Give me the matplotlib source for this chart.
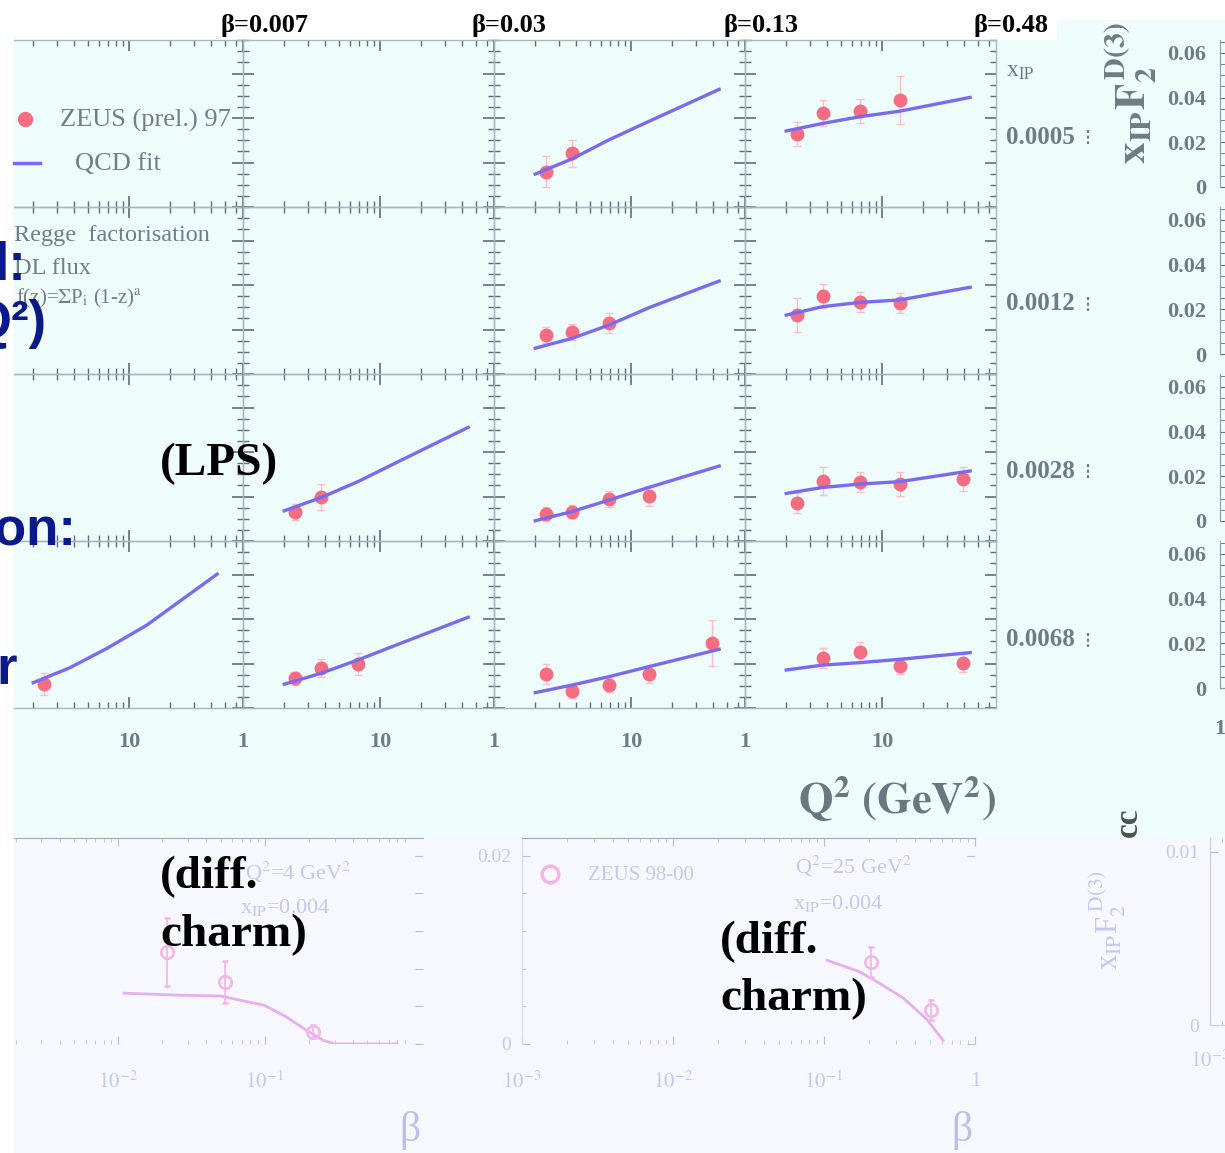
import numpy as np
import matplotlib
matplotlib.use('Agg')
import matplotlib.pyplot as plt
from matplotlib.patches import Rectangle
from matplotlib.ticker import FixedLocator, MultipleLocator, NullFormatter

plt.rcParams['font.family'] = ['Liberation Serif', 'DejaVu Sans']
plt.rcParams['mathtext.fontset'] = 'stix'

nan = np.nan
W, H = 1225, 1153

# ---- main ZEUS LPS grid: rows = x_IP, columns = beta ----
beta_titles = ['β=0.007', 'β=0.03', 'β=0.13', 'β=0.48']
xip_labels = ['0.0005', '0.0012', '0.0028', '0.0068']
q2_meas = [2.4, 3.7, 6.9, 13.5, 39.0]
q2_fit = [2.0, 3.7, 6.9, 13.5, 44.0]

# x_IP = 0.0005
meas_r1 = [None, None, [0.0159, 0.0241, nan, nan, nan], [0.0327, 0.0421, 0.0433, 0.0481, nan]]
err_r1 = [None, None, [0.0070, 0.0060, nan, nan, nan], [0.0054, 0.0058, 0.0054, 0.0108, nan]]
fit_r1 = [None, None, [0.0148, 0.0216, 0.0302, 0.0385, 0.0529], [0.0342, 0.0376, 0.0406, 0.0431, 0.0493]]
# x_IP = 0.0012
meas_r2 = [None, None, [0.0175, 0.0190, 0.0231, nan, nan], [0.0265, 0.0351, 0.0325, 0.0320, nan]]
err_r2 = [None, None, [0.0036, 0.0036, 0.0045, nan, nan], [0.0076, 0.0054, 0.0045, 0.0045, nan]]
fit_r2 = [None, None, [0.0116, 0.0160, 0.0220, 0.0298, 0.0418], [0.0265, 0.0303, 0.0322, 0.0333, 0.0390]]
# x_IP = 0.0028
meas_r3 = [None, [0.0132, 0.0199, nan, nan, nan], [0.0121, 0.0132, 0.0189, 0.0202, nan],
           [0.0172, 0.0270, 0.0267, 0.0255, 0.0277]]
err_r3 = [None, [0.0036, 0.0058, nan, nan, nan], [0.0030, 0.0030, 0.0036, 0.0045, nan],
          [0.0045, 0.0063, 0.0045, 0.0054, 0.0054]]
fit_r3 = [None, [0.0136, 0.0195, 0.0267, 0.0356, 0.0511], [0.0091, 0.0132, 0.0184, 0.0241, 0.0337],
          [0.0214, 0.0241, 0.0256, 0.0267, 0.0315]]
# x_IP = 0.0068
meas_r4 = [[0.0107, nan, nan, nan, nan], [0.0133, 0.0181, 0.0198, nan, nan],
           [0.0153, 0.0076, 0.0103, 0.0153, 0.0294], [nan, 0.0226, 0.0250, 0.0190, 0.0201]]
err_r4 = [[0.0050, nan, nan, nan, nan], [0.0030, 0.0040, 0.0050, nan, nan],
          [0.0045, 0.0030, 0.0030, 0.0040, 0.0103], [nan, 0.0045, 0.0045, 0.0036, 0.0040]]
fit_r4 = [[0.0114, 0.0181, 0.0268, 0.0373, 0.0602], [0.0107, 0.0156, 0.0216, 0.0286, 0.0408],
          [0.0069, 0.0103, 0.0141, 0.0186, 0.0264], [0.0171, 0.0193, 0.0204, 0.0219, 0.0249]]

meas_rows = [meas_r1, meas_r2, meas_r3, meas_r4]
err_rows = [err_r1, err_r2, err_r3, err_r4]
fit_rows = [fit_r1, fit_r2, fit_r3, fit_r4]

right_ticks = [0, 0.02, 0.04, 0.06]
right_ticklabels = ['0', '0.02', '0.04', '0.06']

# ---- diffractive charm panels (bottom, faded) ----
beta_c4 = [0.0214, 0.0537, 0.214]
f2c_4 = [0.0098, 0.0066, 0.0013]
err_c4 = [0.0036, 0.0022, 0.0007]
fit_beta_4 = [0.011, 0.025, 0.05, 0.1, 0.14, 0.2, 0.25, 0.3, 0.8]
fit_c4 = [0.0054, 0.0052, 0.0051, 0.0041, 0.0029, 0.0013, 0.0004, 0.0, 0.0]

beta_c25 = [0.205, 0.511]
f2c_25 = [0.0087, 0.0036]
err_c25 = [0.0016, 0.0011]
fit_beta_25 = [0.105, 0.171, 0.231, 0.334, 0.481, 0.614]
fit_c25 = [0.0089, 0.0077, 0.0065, 0.0049, 0.0026, 0.0004]

GRAY = '#6E7C84'
PT_RED = '#F66C80'
FIT_BLUE = '#7A6AEE'
FAINT = '#C3C9EE'
NAVY = '#0B1A8A'


def px_rect(x0, y0, x1, y1):
    return [x0 / W, 1 - y1 / H, (x1 - x0) / W, (y1 - y0) / H]


fig = plt.figure(figsize=(W / 100, H / 100), dpi=100)
fig.patch.set_facecolor('white')

bg = fig.add_axes([0, 0, 1, 1])
bg.set_xlim(0, W); bg.set_ylim(H, 0); bg.axis('off'); bg.set_zorder(0)
bg.add_patch(Rectangle((14, 40), W - 14, 798, color='#EFFCFC', lw=0))
bg.add_patch(Rectangle((1057, 20), W - 1057, 20, color='#EFFCFC', lw=0))
bg.add_patch(Rectangle((14, 838), W - 14, H - 838, color='#F6F8FE', lw=0))

# main 4x4 grid
for r in range(4):
    for c in range(4):
        x0 = -8 + 251 * c
        y0 = 40 + 167 * r
        ax = fig.add_axes(px_rect(x0, y0, x0 + 251, y0 + 167))
        ax.set_zorder(1)
        ax.set_facecolor('none')
        ax.set_xscale('log')
        ax.set_xlim(1, 10 ** (251 / 137))
        ax.set_ylim(0, 0.0751)
        ax.xaxis.set_major_locator(FixedLocator([1, 10]))
        ax.xaxis.set_minor_locator(FixedLocator([2, 3, 4, 5, 6, 7, 8, 9, 20, 30, 40, 50, 60]))
        ax.xaxis.set_minor_formatter(NullFormatter())
        ax.yaxis.set_major_locator(MultipleLocator(0.02))
        ax.yaxis.set_minor_locator(MultipleLocator(0.005))
        ax.tick_params(which='both', direction='in', top=True, right=True, colors='#5F6E75',
                       labelleft=False)
        ax.tick_params(which='major', length=8, width=1.2)
        ax.tick_params(which='minor', length=4, width=1)
        for s in ax.spines.values():
            s.set_color('#A9B6BC'); s.set_linewidth(1)
        if r == 3:
            ax.set_xticks([1, 10], ['1', '10'])
            ax.tick_params(axis='x', which='major', pad=17, labelsize=16, labelcolor=GRAY)
            for lab in ax.get_xticklabels():
                lab.set_fontweight('bold')
        else:
            ax.tick_params(axis='x', labelbottom=False)

        meas = meas_rows[r][c]
        if meas is not None:
            ax.errorbar(q2_meas, meas, yerr=err_rows[r][c], fmt='o', ms=9, color=PT_RED,
                        ecolor='#F7BFCB', elinewidth=1, capsize=3, zorder=3)
        fit = fit_rows[r][c]
        if fit is not None:
            ax.plot(q2_fit, fit, color=FIT_BLUE, lw=2.4, zorder=4)

# right-hand neighbouring panels (cut off by the crop)
for r in range(4):
    top = 40 + 167 * r
    zero = 187 + 167 * r
    ax = fig.add_axes(px_rect(1220, top, 1330, zero))
    ax.set_zorder(1)
    ax.set_facecolor('none')
    ax.set_ylim(0, 0.0658)
    ax.set_yticks(right_ticks, right_ticklabels)
    ax.yaxis.set_minor_locator(MultipleLocator(0.005))
    ax.tick_params(axis='y', which='both', direction='in', colors='#5F6E75', pad=10,
                   labelsize=16, labelcolor=GRAY)
    ax.tick_params(axis='y', which='major', length=7)
    ax.tick_params(axis='y', which='minor', length=4)
    for lab in ax.get_yticklabels():
        lab.set_fontweight('bold')
    for side in ['top', 'right', 'bottom']:
        ax.spines[side].set_visible(False)
    ax.spines['left'].set_color('#8E9BA2')
    if r == 3:
        ax.spines['bottom'].set_visible(True)
        ax.spines['bottom'].set_color('#8E9BA2')
        ax.set_xscale('log')
        ax.set_xlim(1, 100)
        ax.set_xticks([1], ['1'])
        ax.xaxis.set_minor_locator(FixedLocator([]))
        ax.tick_params(axis='x', length=0, pad=22, labelsize=16, labelcolor=GRAY)
        for lab in ax.get_xticklabels():
            lab.set_fontweight('bold')
    else:
        ax.set_xticks([])

# bottom diffractive charm panels
def charm_axes(x0, y0, x1, y1, xlim, ylim):
    ax = fig.add_axes(px_rect(x0, y0, x1, y1))
    ax.set_zorder(1)
    ax.set_facecolor('none')
    ax.set_xscale('log')
    ax.set_xlim(*xlim)
    ax.set_ylim(*ylim)
    ax.xaxis.set_minor_formatter(NullFormatter())
    ax.tick_params(which='both', direction='in', colors='#B8BEDD', labelcolor=FAINT,
                   labelsize=15, top=True)
    ax.tick_params(which='major', length=6)
    ax.tick_params(which='minor', length=3)
    for s in ax.spines.values():
        s.set_visible(False)
    return ax


ax_bl = charm_axes(14, 838, 423, 1044, (10 ** -2.71, 10 ** 0.08), (0, 0.0219))
ax_bl.spines['top'].set_visible(True)
ax_bl.spines['top'].set_color('#A2ABB2')
ax_bl.set_xticks([1e-2, 1e-1], [r'$10^{-2}$', r'$10^{-1}$'])
ax_bl.yaxis.set_major_locator(MultipleLocator(0.004))
ax_bl.tick_params(axis='y', left=False, right=True, labelleft=False)
ax_bl.tick_params(axis='x', pad=20)
ax_bl.plot(fit_beta_4, fit_c4, color='#E6B0EE', lw=2)
ax_bl.errorbar(beta_c4, f2c_4, yerr=err_c4, fmt='o', ms=9, mfc='none', mec='#F5B3E7', mew=1.8,
               ecolor='#F5B3E7', elinewidth=1.2, capsize=2)

ax_bm = charm_axes(522, 838, 975, 1044, (1e-3, 1), (0, 0.0219))
ax_bm.spines['top'].set_visible(True)
ax_bm.spines['top'].set_color('#A2ABB2')
ax_bm.spines['left'].set_visible(True)
ax_bm.spines['left'].set_color('#D5D9F0')
ax_bm.set_xticks([1e-3, 1e-2, 1e-1, 1], [r'$10^{-3}$', r'$10^{-2}$', r'$10^{-1}$', '1'])
ax_bm.set_yticks([0, 0.02], ['0', '0.02'])
ax_bm.yaxis.set_minor_locator(MultipleLocator(0.004))
ax_bm.tick_params(axis='y', right=True, labelsize=14, pad=8)
ax_bm.tick_params(axis='x', pad=20)
ax_bm.plot(fit_beta_25, fit_c25, color='#E6B0EE', lw=2)
ax_bm.errorbar(beta_c25, f2c_25, yerr=err_c25, fmt='o', ms=9, mfc='none', mec='#F5B3E7', mew=1.8,
               ecolor='#F5B3E7', elinewidth=1.2, capsize=2)

ax_br = charm_axes(1210, 838, 1330, 1025, (1e-3, 1), (0, 0.0108))
ax_br.spines['left'].set_visible(True)
ax_br.spines['left'].set_color('#C8CDEB')
ax_br.spines['bottom'].set_visible(True)
ax_br.spines['bottom'].set_color('#C8CDEB')
ax_br.set_xticks([1e-3], [r'$10^{-3}$'])
ax_br.set_yticks([0, 0.01], ['0', '0.01'])
ax_br.tick_params(axis='y', labelsize=14, pad=8)
ax_br.tick_params(axis='x', pad=18, top=False)

# ---- overlay texts in pixel coordinates ----
ov = fig.add_axes([0, 0, 1, 1])
ov.set_xlim(0, W); ov.set_ylim(H, 0); ov.axis('off'); ov.set_zorder(5)
ov.set_facecolor('none')

# white margin on the left, where the crop cuts the figure
ov.add_patch(Rectangle((0, 0), 14, H, color='white', lw=0, zorder=0))

for xc, t in zip([265, 509, 761, 1011], beta_titles):
    ov.text(xc, 32, t, ha='center', va='baseline', fontsize=19, fontweight='bold', color='black')

# legend of the LPS grid
ov.plot([25], [119], 'o', ms=10, color=PT_RED)
ov.text(60, 120, 'ZEUS (prel.) 97', ha='left', va='center', fontsize=19, color='#737D83')
ov.plot([14, 40], [163, 163], color=FIT_BLUE, lw=2.5)
ov.text(75, 164, 'QCD fit', ha='left', va='center', fontsize=19, color='#737D83')

ov.text(14, 235, 'Regge  factorisation', ha='left', va='center', fontsize=17.5, color='#737D83')
ov.text(14, 268, 'DL flux', ha='left', va='center', fontsize=17.5, color='#737D83')
ov.text(16, 298, r'f(z)=$\Sigma$P$_{\rm i}$ (1-z)$^{\rm a}$', ha='left', va='center',
        fontsize=15, color='#737D83')

# x_IP labels at right of the grid
ov.text(1006, 77, r'x$_{\rm IP}$', ha='left', va='baseline', fontsize=17, color=GRAY)
for yc, t in zip([137, 304, 471, 640], xip_labels):
    ov.text(1006, yc, t, ha='left', va='center', fontsize=18, color=GRAY, fontweight='bold')
    ov.plot([1088, 1088], [yc - 7, yc + 7], ls=(0, (1.5, 1.2)), color=GRAY, lw=1.5)

ylab = ov.text(1131, 164, r'$\mathbf{x_{IP}F_2^{\,D(3)}}$', rotation=90, ha='center',
               va='bottom', fontsize=31, color='#707C82')
ylab.set_clip_path(Rectangle((1080, 20), 120, 200, transform=ov.transData))

ov.text(897, 814, r'$\mathbf{Q^2\ (GeV^2)}$', ha='center', va='baseline', fontsize=32,
        color='#6A777E')

# bottom panel annotations (faded)
ov.text(245, 872, r'Q$^2$=4 GeV$^2$', ha='left', va='center', fontsize=16, color=FAINT)
ov.text(240, 908, r'x$_{\rm IP}$=0.004', ha='left', va='center', fontsize=16, color=FAINT)
ov.plot([550], [874], 'o', ms=12, mfc='none', mec='#F5B3E7', mew=2.5)
ov.text(588, 876, 'ZEUS 98-00', ha='left', va='center', fontsize=15, color=FAINT)
ov.text(795, 866, r'Q$^2$=25 GeV$^2$', ha='left', va='center', fontsize=16, color=FAINT)
ov.text(793, 903, r'x$_{\rm IP}$=0.004', ha='left', va='center', fontsize=16, color=FAINT)
ov.text(410, 1130, 'β', ha='center', va='center', fontsize=30, color='#BAC0EA')
ov.text(962, 1130, 'β', ha='center', va='center', fontsize=30, color='#BAC0EA')
ov.text(1108, 920, r'x$_{\rm IP}$F$_2^{\rm \ D(3)}$', rotation=90, ha='center', va='center',
        fontsize=22, color=FAINT)
ov.text(1128, 822, 'cc', rotation=90, ha='center', va='center', fontsize=24,
        fontweight='bold', color='#505050')

# slide text overlays (navy, cut by the crop)
navy_kw = dict(ha='right', va='baseline', fontsize=38, fontweight='bold', color=NAVY,
               fontfamily='Liberation Sans')
t = ov.text(27, 280, 'd:', **navy_kw)
t.set_clip_path(Rectangle((0, 252), 80, 60, transform=ov.transData))
ov.text(47, 338, 'Q²)', **navy_kw)
ov.text(76, 545, 'on:', **navy_kw)
ov.text(17, 684, 'r', **navy_kw)

# black annotation overlays
blk_kw = dict(ha='left', va='baseline', fontsize=34, fontweight='bold', color='black')
ov.text(160, 475, '(LPS)', **blk_kw)
ov.text(160, 888, '(diff.', **blk_kw)
ov.text(160, 946, 'charm)', **blk_kw)
ov.text(720, 953, '(diff.', **blk_kw)
ov.text(720, 1010, 'charm)', **blk_kw)

fig.savefig('out.png', dpi=100)
